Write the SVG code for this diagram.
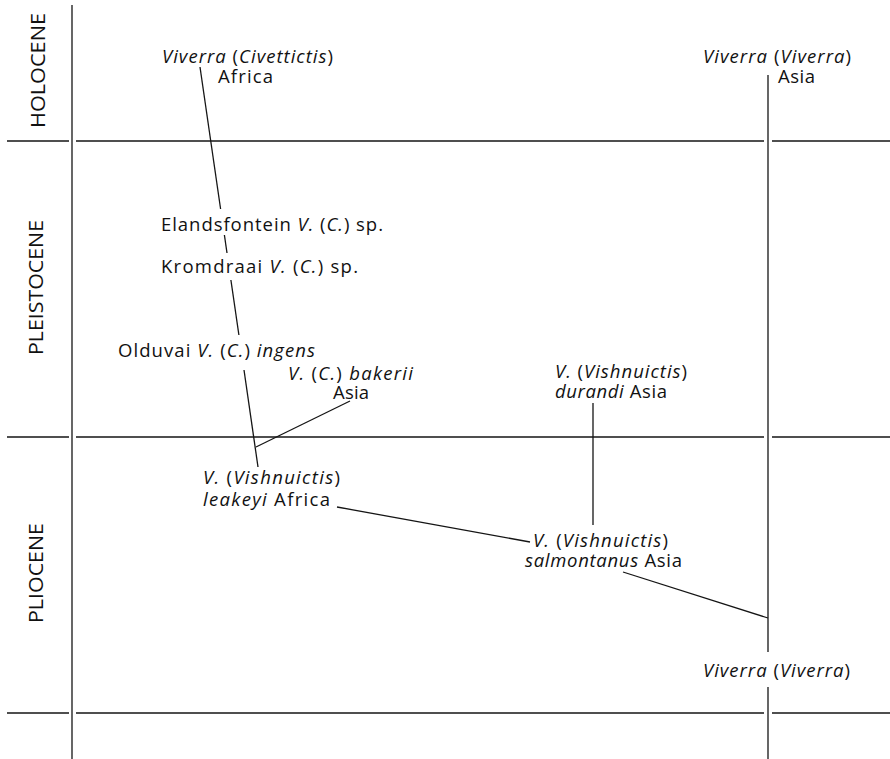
<svg xmlns="http://www.w3.org/2000/svg" width="890" height="759" viewBox="0 0 890 759">
  <style>
    .grid { stroke: #151515; stroke-width: 1.3; fill: none; }
    .link { stroke: #151515; stroke-width: 1.3; fill: none; }
    .lbl { font-family: "Open Sans", "Liberation Sans", sans-serif; font-size: 18.5px; font-weight: 500; fill: #111111; }
    .era { font-family: "Open Sans", "Liberation Sans", sans-serif; font-size: 20px; font-weight: 500; fill: #111111; }
    .it { font-style: italic; }
  </style>
  <rect width="890" height="759" fill="#ffffff"/>

  <!-- time scale frame -->
  <g id="frame" class="grid">
    <line x1="72" y1="5" x2="72" y2="759"/>
    <line x1="7" y1="141" x2="69" y2="141"/>
    <line x1="76" y1="141" x2="764" y2="141"/>
    <line x1="772" y1="141" x2="890" y2="141"/>
    <line x1="7" y1="437" x2="69" y2="437"/>
    <line x1="76" y1="437" x2="764" y2="437"/>
    <line x1="772" y1="437" x2="890" y2="437"/>
    <line x1="7" y1="713" x2="69" y2="713"/>
    <line x1="76" y1="713" x2="764" y2="713"/>
    <line x1="772" y1="713" x2="890" y2="713"/>
  </g>

  <!-- epoch names -->
  <g id="epochs">
    <text class="era" transform="translate(45,128) rotate(-90)" textLength="115" lengthAdjust="spacingAndGlyphs">HOLOCENE</text>
    <text class="era" transform="translate(43,355) rotate(-90)" textLength="135" lengthAdjust="spacingAndGlyphs">PLEISTOCENE</text>
    <text class="era" transform="translate(43,623) rotate(-90)" textLength="100" lengthAdjust="spacingAndGlyphs">PLIOCENE</text>
  </g>

  <!-- lineage connectors -->
  <g id="connectors" class="link">
    <!-- Civettictis stem, broken around the site labels -->
    <line x1="200" y1="67" x2="220.6" y2="209"/>
    <line x1="224.4" y1="235" x2="227" y2="253"/>
    <line x1="230.9" y1="280" x2="238.9" y2="335"/>
    <line x1="244" y1="370" x2="258" y2="467"/>
    <!-- branch to V. (C.) bakerii -->
    <line x1="256" y1="447" x2="350" y2="401"/>
    <!-- durandi -->
    <line x1="593" y1="403" x2="593" y2="525"/>
    <!-- leakeyi to salmontanus -->
    <line x1="337" y1="507" x2="530" y2="542"/>
    <!-- salmontanus to Viverra (Viverra) -->
    <line x1="623" y1="572" x2="768" y2="618"/>
    <!-- Viverra (Viverra) stem -->
    <line x1="768" y1="75" x2="768" y2="652"/>
    <line x1="768" y1="687" x2="768" y2="759"/>
  </g>

  <g id="civettictis-africa">
    <text class="lbl" x="162" y="63" textLength="171" lengthAdjust="spacing"><tspan class="it">Viverra</tspan> (<tspan class="it">Civettictis</tspan>)</text>
    <text class="lbl" x="218" y="83" textLength="55" lengthAdjust="spacing">Africa</text>
  </g>

  <g id="viverra-asia">
    <text class="lbl" x="703" y="63" textLength="148" lengthAdjust="spacing"><tspan class="it">Viverra</tspan> (<tspan class="it">Viverra</tspan>)</text>
    <text class="lbl" x="778" y="83" textLength="37" lengthAdjust="spacing">Asia</text>
  </g>

  <g id="elandsfontein">
    <text class="lbl" x="161" y="231" textLength="222" lengthAdjust="spacing">Elandsfontein <tspan class="it">V.</tspan> (<tspan class="it">C.</tspan>) sp.</text>
  </g>

  <g id="kromdraai">
    <text class="lbl" x="161" y="273" textLength="197" lengthAdjust="spacing">Kromdraai <tspan class="it">V.</tspan> (<tspan class="it">C.</tspan>) sp.</text>
  </g>

  <g id="olduvai-ingens">
    <text class="lbl" x="118" y="357" textLength="197" lengthAdjust="spacing">Olduvai <tspan class="it">V.</tspan> (<tspan class="it">C.</tspan>) <tspan class="it">ingens</tspan></text>
  </g>

  <g id="bakerii">
    <text class="lbl" x="288" y="380" textLength="125" lengthAdjust="spacing"><tspan class="it">V.</tspan> (<tspan class="it">C.</tspan>) <tspan class="it">bakerii</tspan></text>
    <text class="lbl" x="333" y="399" textLength="36" lengthAdjust="spacing">Asia</text>
  </g>

  <g id="durandi">
    <text class="lbl" x="555" y="378" textLength="132" lengthAdjust="spacing"><tspan class="it">V.</tspan> (<tspan class="it">Vishnuictis</tspan>)</text>
    <text class="lbl" x="555" y="398" textLength="112" lengthAdjust="spacing"><tspan class="it">durandi</tspan> Asia</text>
  </g>

  <g id="leakeyi">
    <text class="lbl" x="203" y="484" textLength="137" lengthAdjust="spacing"><tspan class="it">V.</tspan> (<tspan class="it">Vishnuictis</tspan>)</text>
    <text class="lbl" x="203" y="506" textLength="127" lengthAdjust="spacing"><tspan class="it">leakeyi</tspan> Africa</text>
  </g>

  <g id="salmontanus">
    <text class="lbl" x="533" y="547" textLength="135" lengthAdjust="spacing"><tspan class="it">V.</tspan> (<tspan class="it">Vishnuictis</tspan>)</text>
    <text class="lbl" x="525" y="567" textLength="157" lengthAdjust="spacing"><tspan class="it">salmontanus</tspan> Asia</text>
  </g>

  <g id="viverra-pliocene">
    <text class="lbl" x="703" y="677" textLength="147" lengthAdjust="spacing"><tspan class="it">Viverra</tspan> (<tspan class="it">Viverra</tspan>)</text>
  </g>
</svg>
